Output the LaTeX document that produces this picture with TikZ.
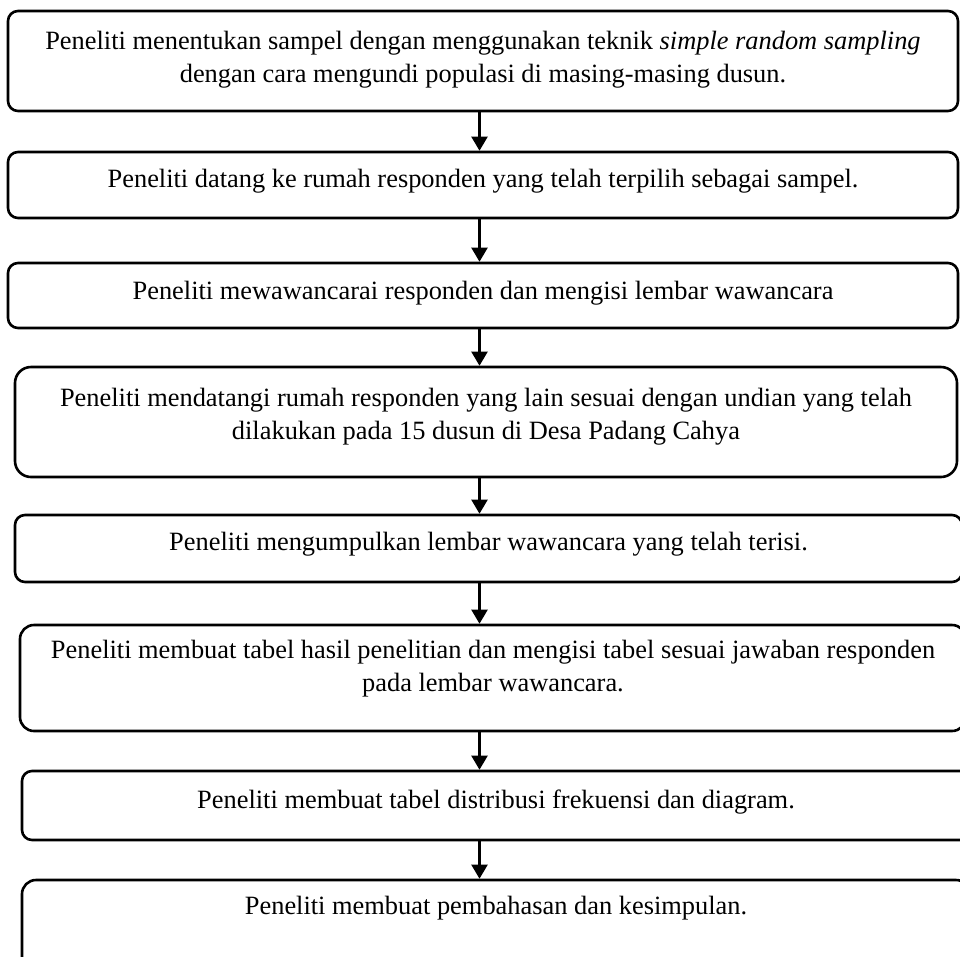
\documentclass[tikz,border=0pt]{standalone}
\usepackage{fontspec}
\setmainfont{Liberation Serif}
\usetikzlibrary{arrows.meta}
\tikzset{stepbox/.style = {draw, line width = 2.6pt, rounded corners = 10pt, inner sep = 0}}
\tikzset{steptext/.style = {align = center, inner sep = 0, anchor = north, font = \fontsize{26.4}{33}\selectfont}}
\tikzset{flow/.style = {line width = 2.2pt, -{Triangle[width = 16pt, length = 14pt]}}}

\begin{document}
\begin{tikzpicture}[x = 1pt, y = -1pt]
      \useasboundingbox (0, 0) rectangle (960, 956);
      \coordinate (spine) at (479.5, 0);

      \node [stepbox, minimum width = 950pt, minimum height = 100pt] (b1) at (483, 61) {};
      \node [steptext] (t1) at ([yshift = -21pt]b1.north) {Peneliti menentukan sampel dengan menggunakan teknik \textit{simple random sampling}\\dengan cara mengundi populasi di masing-masing dusun.};

      \node [stepbox, minimum width = 950pt, minimum height = 66pt] (b2) at (483, 185) {};
      \node [steptext] (t2) at ([yshift = -18pt]b2.north) {Peneliti datang ke rumah responden yang telah terpilih sebagai sampel.};

      \node [stepbox, minimum width = 950pt, minimum height = 65pt] (b3) at (483, 295.5) {};
      \node [steptext] (t3) at ([yshift = -19pt]b3.north) {Peneliti mewawancarai responden dan mengisi lembar wawancara};

      \node [stepbox, minimum width = 942pt, minimum height = 110pt, rounded corners = 16pt] (b4) at (486, 422) {};
      \node [steptext] (t4) at ([yshift = -22pt]b4.north) {Peneliti mendatangi rumah responden yang lain sesuai dengan undian yang telah\\dilakukan pada 15 dusun di Desa Padang Cahya};

      \node [stepbox, minimum width = 947pt, minimum height = 67pt] (b5) at (488.5, 548.5) {};
      \node [steptext] (t5) at ([yshift = -18pt]b5.north) {Peneliti mengumpulkan lembar wawancara yang telah terisi.};

      \node [stepbox, minimum width = 946pt, minimum height = 106pt, rounded corners = 14pt] (b6) at (493, 678) {};
      \node [steptext] (t6) at ([yshift = -16pt]b6.north) {Peneliti membuat tabel hasil penelitian dan mengisi tabel sesuai jawaban responden\\pada lembar wawancara.};

      \node [stepbox, minimum width = 948pt, minimum height = 69pt] (b7) at (496, 805.5) {};
      \node [steptext] (t7) at ([yshift = -20pt]b7.north) {Peneliti membuat tabel distribusi frekuensi dan diagram.};

      \node [stepbox, minimum width = 948pt, minimum height = 100pt, rounded corners = 14pt] (b8) at (496, 930) {};
      \node [steptext] (t8) at ([yshift = -17pt]b8.north) {Peneliti membuat pembahasan dan kesimpulan.};

      \foreach \a/\b in {b1/b2, b2/b3, b3/b4, b4/b5, b5/b6, b6/b7, b7/b8}
        \draw [flow] (\a.south -| spine) -- (\b.north -| spine);
    \end{tikzpicture}
\end{document}
